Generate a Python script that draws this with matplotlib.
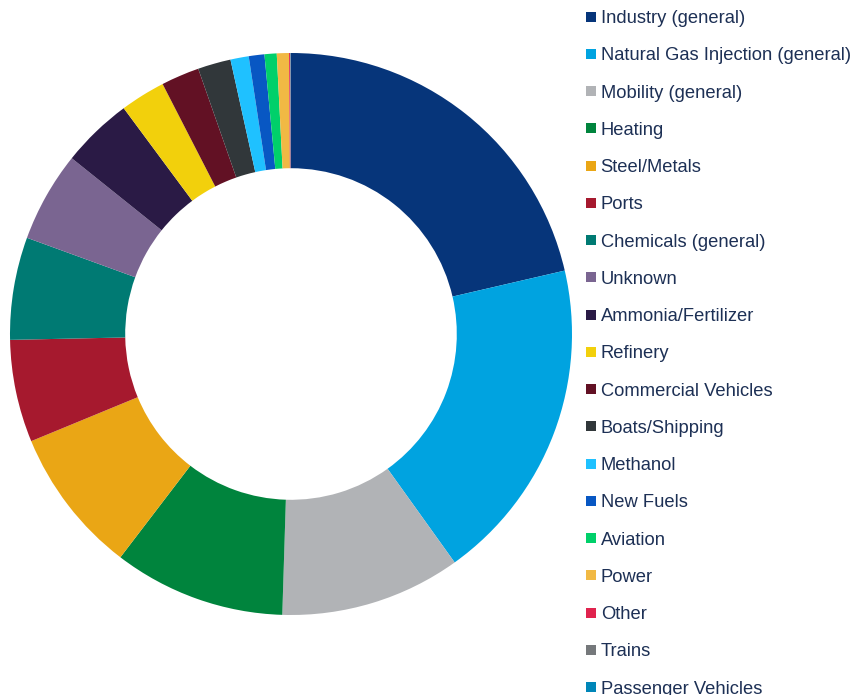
import matplotlib
matplotlib.use("Agg")
import matplotlib.pyplot as plt
from matplotlib.lines import Line2D

# ---------------------------------------------------------------------------
# Data (share of projects by end use, %)
# ---------------------------------------------------------------------------
categories = [
    "Industry (general)", "Natural Gas Injection (general)", "Mobility (general)",
    "Heating", "Steel/Metals", "Ports", "Chemicals (general)", "Unknown",
    "Ammonia/Fertilizer", "Refinery", "Commercial Vehicles", "Boats/Shipping",
    "Methanol", "New Fuels", "Aviation", "Power", "Other", "Trains",
    "Passenger Vehicles",
]
shares = [21.4, 18.75, 10.4, 9.9, 8.4, 5.9, 5.9, 5.2, 4.1, 2.6, 2.2, 1.9,
          1.05, 0.9, 0.7, 0.7, 0.07, 0.02, 0.02]
colors = ["#06357a", "#00a3e0", "#b1b3b6", "#00843d", "#eaa615", "#a6192e",
          "#007a73", "#7a6591", "#2a1a45", "#f2d00c", "#621124", "#31373a",
          "#1fc1ff", "#0857c3", "#00d06a", "#f1b944", "#e0234e", "#75787b",
          "#0086b8"]

W, H = 854, 695
fig = plt.figure(figsize=(W / 100, H / 100), dpi=100)

# donut: centre (291, 334) px, outer radius 281 px
cx, cy, r = 291, 334, 281
ax = fig.add_axes([(cx - r) / W, (H - cy - r) / H, 2 * r / W, 2 * r / H])
ax.pie(shares, colors=colors, startangle=90, counterclock=False, radius=1,
       wedgeprops=dict(width=0.41, linewidth=0))
ax.set_xlim(-1, 1); ax.set_ylim(-1, 1)
ax.set_aspect("equal")
ax.axis("off")

handles = [Line2D([], [], marker="s", linestyle="none", markersize=7.5,
                  markerfacecolor=c, markeredgewidth=0) for c in colors]
fig.legend(handles, categories, loc="upper left",
           bbox_to_anchor=(586 / W, 1 - 10 / H), frameon=False,
           prop=dict(family="Liberation Sans", size=13.2),
           labelcolor="#1d3055", handlelength=0.55, handletextpad=0.25,
           labelspacing=1.105, borderpad=0, borderaxespad=0)

fig.savefig("out.png", dpi=100)
